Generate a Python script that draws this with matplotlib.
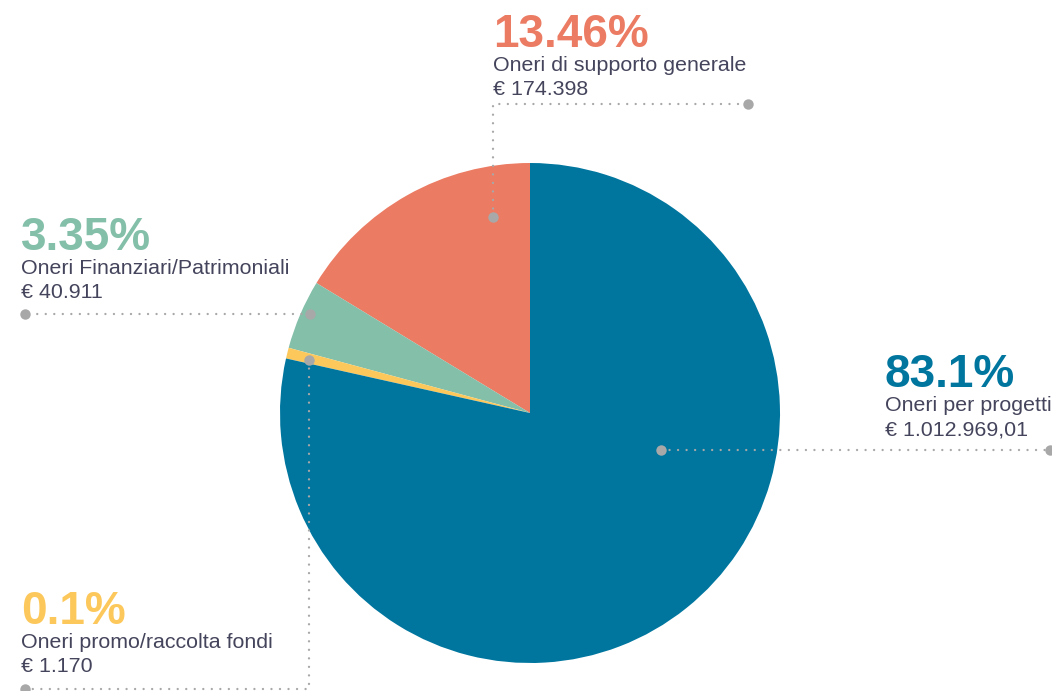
import numpy as np
import matplotlib.pyplot as plt

W, H = 1052, 691

# wedges in drawing order (counter-clockwise from the top)
names = ['Oneri di supporto generale', 'Oneri Finanziari/Patrimoniali',
         'Oneri promo/raccolta fondi', 'Oneri per progetti']
pct_labels = ['13.46%', '3.35%', '0.1%', '83.1%']
amounts = ['€ 174.398', '€ 40.911', '€ 1.170', '€ 1.012.969,01']
# shares as drawn in the picture
shares = [16.3, 4.5, 0.7, 78.5]
colors = ['#ec7b63', '#83bfa9', '#fdc85b', '#00769f']

txt = '#44445c'
dot = '#a8a8a8'
plt.rcParams['font.family'] = ['Liberation Sans', 'DejaVu Sans']

fig = plt.figure(figsize=(W / 100, H / 100), dpi=100)
ax = fig.add_axes([0, 0, 1, 1])


def Y(y):
    return H - y


ax.pie(shares, colors=colors, startangle=90, counterclock=True,
       center=(530, Y(413)), radius=250, frame=True,
       wedgeprops=dict(linewidth=0))
ax.set_xlim(0, W)
ax.set_ylim(0, H)
ax.set_aspect('equal')
ax.axis('off')

# label blocks: x, baseline of percentage
blocks = [(493, 47), (21, 250), (21, 624), (885, 387)]
for i, (x, yb) in enumerate(blocks):
    ax.text(x, Y(yb), pct_labels[i], color=colors[i], fontsize=33,
            fontweight='bold', va='baseline', ha='left')
    ax.text(x, Y(yb + 24), names[i], color=txt, fontsize=15.4,
            va='baseline', ha='left')
    ax.text(x, Y(yb + 48), amounts[i], color=txt, fontsize=15.4,
            va='baseline', ha='left')

# leader lines
leaders = [
    [(493, 217), (493, 104), (748, 104)],
    [(310, 314), (25, 314)],
    [(309, 360), (309, 689), (25, 689)],
    [(661, 450), (1050, 450)],
]
for pts in leaders:
    xs = [p[0] for p in pts]
    ys = [Y(p[1]) for p in pts]
    ax.plot(xs, ys, color=dot, lw=1.7, linestyle=(0, (0.01, 3.6)),
            dash_capstyle='round', zorder=5)
    ax.plot([xs[0], xs[-1]], [ys[0], ys[-1]], 'o', color=dot, ms=7.5,
            mec='none', zorder=6)

fig.savefig('out.png', dpi=100)
